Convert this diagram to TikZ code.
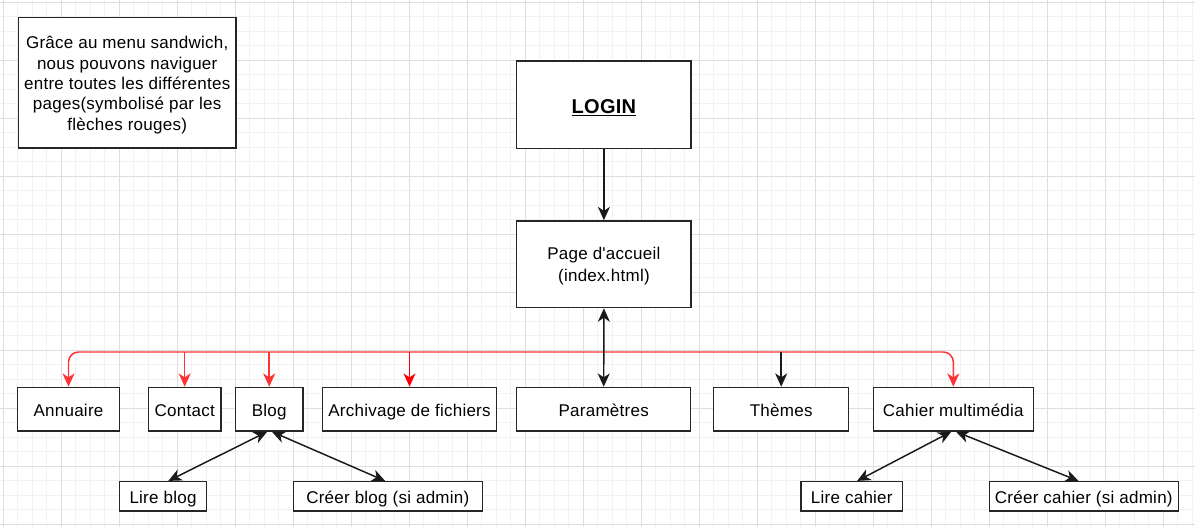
\documentclass[tikz,border=0pt]{standalone}
\usepackage{fontspec}
\setmainfont{Liberation Sans}[Ligatures=TeXOff, LetterSpace=1.5]
\usetikzlibrary{arrows.meta}
\definecolor{busred}{HTML}{FF3333}
\definecolor{gridminor}{HTML}{F2F2F2}
\definecolor{gridmajor}{HTML}{DEDEDE}
\definecolor{edgeblack}{HTML}{1A1A1A}
\begin{document}
\begin{tikzpicture}[x=0.75pt,y=-0.75pt,
  >={Stealth[length=10pt,width=9pt,inset=3pt]},
  box/.style={draw=black!85, line width=1.1pt, fill=white, inner sep=0pt,
    align=center, font=\fontsize{12.75}{16}\selectfont},
  oneline/.style={text height=10.3pt, text depth=0pt},
  wh/.style 2 args={minimum width=#1*0.75pt, minimum height=#2*0.75pt},
  blk/.style={draw=edgeblack, line width=1.1pt},
  redln/.style={draw=busred, line width=1.1pt},
  minorln/.style={draw=gridminor, line width=0.75pt},
  majorln/.style={draw=gridmajor, line width=0.75pt}
]
\useasboundingbox (0,0) rectangle (1195,527);
\fill[white] (0,0) rectangle (1195,527);

% background grid
\foreach \i in {0,...,82}{\pgfmathsetmacro\gx{3.3+14.5*\i}\draw[minorln] (\gx,0) -- (\gx,527);}
\foreach \j in {0,...,36}{\pgfmathsetmacro\gy{2.3+14.5*\j}\draw[minorln] (0,\gy) -- (1195,\gy);}
\foreach \i in {0,...,20}{\pgfmathsetmacro\gx{3.3+58*\i}\draw[majorln] (\gx,0) -- (\gx,527);}
\foreach \j in {0,...,9}{\pgfmathsetmacro\gy{2.3+58*\j}\draw[majorln] (0,\gy) -- (1195,\gy);}

% explanatory note
\node[box, wh={217.7}{130.7}, font=\fontsize{12.75}{15.3}\selectfont,
      text height=71.5pt, text depth=0pt] (note) at (127.2,82.7)
  {Grâce au menu sandwich,\\nous pouvons naviguer\\entre toutes les différentes\\pages(symbolisé par les\\flèches rouges)};

% main pages
\node[box, wh={174.3}{87.3}, font=\fontsize{15}{18}\selectfont\bfseries,
      text height=12.9pt, text depth=0pt] (login) at (603.9,104.7) {\underline{LOGIN}};
\node[box, wh={174.3}{86.7}, font=\fontsize{12.75}{16.3}\selectfont,
      text height=26.1pt, text depth=0pt] (page) at (603.9,264.3) {Page d'accueil\\(index.html)};

% menu row
\node[box, oneline, wh={101.6}{43.5}] (annuaire) at (68.5,409.2) {Annuaire};
\node[box, oneline, wh={72.7}{43.5}] (contact) at (184.7,409.2) {Contact};
\node[box, oneline, wh={67.7}{43.5}] (blog) at (269.2,409.2) {Blog};
\node[box, oneline, wh={174.4}{43.5}] (archive) at (409.5,409.2) {Archivage de fichiers};
\node[box, oneline, wh={174}{43.5}] (param) at (603.7,409.2) {Paramètres};
\node[box, oneline, wh={135}{43.5}] (themes) at (781.2,409.2) {Thèmes};
\node[box, oneline, wh={160}{43.5}] (cahier) at (953.3,409.2) {Cahier multimédia};

% sub pages
\node[box, oneline, wh={87.4}{29.3}] (lireblog) at (163,496.3) {Lire blog};
\node[box, oneline, wh={189}{29.3}] (creerblog) at (387.8,496.3) {Créer blog (si admin)};
\node[box, oneline, wh={101.7}{29.3}] (lirecahier) at (851.8,496.3) {Lire cahier};
\node[box, oneline, wh={189}{29.3}] (creercahier) at (1083.8,496.3) {Créer cahier (si admin)};

% sandwich menu links
\coordinate (bus) at (604,352);
\draw[redln, ->, rounded corners=7.5pt] (bus) -| (annuaire.north);
\draw[redln, ->, rounded corners=7.5pt] (bus) -| (cahier.north);
\draw[redln, ->] (bus -| contact.north) -- (contact.north);
\draw[redln, ->] (bus -| blog.north) -- (blog.north);
\draw[redln, draw=red, ->] (bus -| archive.north) -- (archive.north);
\draw[blk, ->] (bus -| themes.north) -- (themes.north);

% navigation links
\draw[blk, ->] (login.south) -- (page.north);
\draw[blk, <->] (page.south) -- (param.north);
\draw[blk, <->] ([xshift=-1.5pt]blog.south) -- ([xshift=4pt]lireblog.north);
\draw[blk, <->] ([xshift=2pt]blog.south) -- ([xshift=-2pt]creerblog.north);
\draw[blk, <->] ([xshift=-1.5pt]cahier.south) -- ([xshift=4pt]lirecahier.north);
\draw[blk, <->] ([xshift=2pt]cahier.south) -- ([xshift=-4pt]creercahier.north);
\end{tikzpicture}
\end{document}
